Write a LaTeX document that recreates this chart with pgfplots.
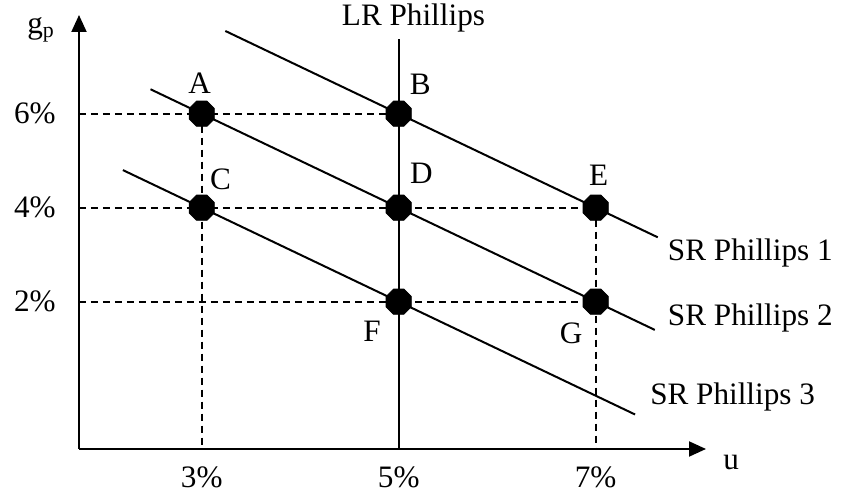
\documentclass[border=0pt]{standalone}
\usepackage{fontspec}
\setmainfont{Liberation Serif}
\usepackage{pgfplots}
\pgfplotsset{compat=1.18}
\usetikzlibrary{arrows.meta}

% filled octagon with flat sides
\pgfdeclareplotmark{oct}{%
  \pgfpathmoveto{\pgfpointpolar{22.5}{\pgfplotmarksize}}%
  \pgfpathlineto{\pgfpointpolar{67.5}{\pgfplotmarksize}}%
  \pgfpathlineto{\pgfpointpolar{112.5}{\pgfplotmarksize}}%
  \pgfpathlineto{\pgfpointpolar{157.5}{\pgfplotmarksize}}%
  \pgfpathlineto{\pgfpointpolar{202.5}{\pgfplotmarksize}}%
  \pgfpathlineto{\pgfpointpolar{247.5}{\pgfplotmarksize}}%
  \pgfpathlineto{\pgfpointpolar{292.5}{\pgfplotmarksize}}%
  \pgfpathlineto{\pgfpointpolar{337.5}{\pgfplotmarksize}}%
  \pgfpathclose
  \pgfusepathqfillstroke
}

\begin{document}
\begin{tikzpicture}[font=\fontsize{15.6}{18}\selectfont]
\useasboundingbox (-39.5pt,-22pt) rectangle (381.5pt,224.5pt);
\begin{axis}[
    at={(0,0)}, anchor=south west,
    scale only axis, width=313.5pt, height=217pt,
    xmin=1.754, xmax=8.12, ymin=-1.134, ymax=8.1,
    axis lines=left,
    axis line style={line width=1pt, -{Triangle[width=7.5pt,length=8.5pt]}},
    xtick={3,5,7}, xticklabels={3\%,5\%,7\%},
    ytick={2,4,6}, yticklabels={2\%,4\%,6\%},
    major tick length=0pt,
    xticklabel style={inner sep=0pt, anchor=north, yshift=-8.5pt},
    yticklabel style={inner sep=0pt, anchor=east, xshift=-11.5pt},
    clip=false,
    guide/.style={black, line width=0.9pt, dash pattern=on 3.5pt off 2.5pt},
    curve/.style={black, line width=1pt},
]
% dashed guides
\addplot[guide] coordinates {(1.754,6) (5,6)};
\addplot[guide] coordinates {(1.754,4) (7,4)};
\addplot[guide] coordinates {(1.754,2) (7,2)};
\addplot[guide] coordinates {(3,6) (3,-1.134)};
\addplot[guide] coordinates {(7,4) (7,-1.134)};

% Phillips curves
\addplot[curve] coordinates {(5,-1.134) (5,7.59)};
\addplot[curve] coordinates {(3.24,7.76) (7.63,3.37)};
\addplot[curve] coordinates {(2.48,6.52) (7.6,1.4)};
\addplot[curve] coordinates {(2.2,4.8) (7.4,-0.4)};

% points
\addplot[only marks, mark=oct, mark size=6.8pt, black]
    coordinates {(3,6) (5,6) (3,4) (5,4) (7,4) (5,2) (7,2)};

\node[inner sep=0pt] at (axis cs:2.98,6.64) {A};
\node[inner sep=0pt] at (axis cs:5.22,6.62) {B};
\node[inner sep=0pt] at (axis cs:3.19,4.60) {C};
\node[inner sep=0pt] at (axis cs:5.23,4.74) {D};
\node[inner sep=0pt] at (axis cs:7.03,4.68) {E};
\node[inner sep=0pt] at (axis cs:4.73,1.38) {F};
\node[inner sep=0pt] at (axis cs:6.75,1.32) {G};

\node[inner sep=0pt] at (axis cs:5.15,8.04) {LR Phillips};
\node[inner sep=0pt, anchor=west] at (axis cs:7.73,3.04) {SR Phillips 1};
\node[inner sep=0pt, anchor=west] at (axis cs:7.73,1.65) {SR Phillips 2};
\node[inner sep=0pt, anchor=west] at (axis cs:7.55,-0.03) {SR Phillips 3};

\node[inner sep=0pt, anchor=base west] at (rel axis cs:0,1) [xshift=-26pt, yshift=-9.25pt] {g\textsubscript{p}};
\node[inner sep=0pt, anchor=base west] at (rel axis cs:1,0) [xshift=8.5pt, yshift=-10.5pt] {u};
\end{axis}
\end{tikzpicture}
\end{document}
